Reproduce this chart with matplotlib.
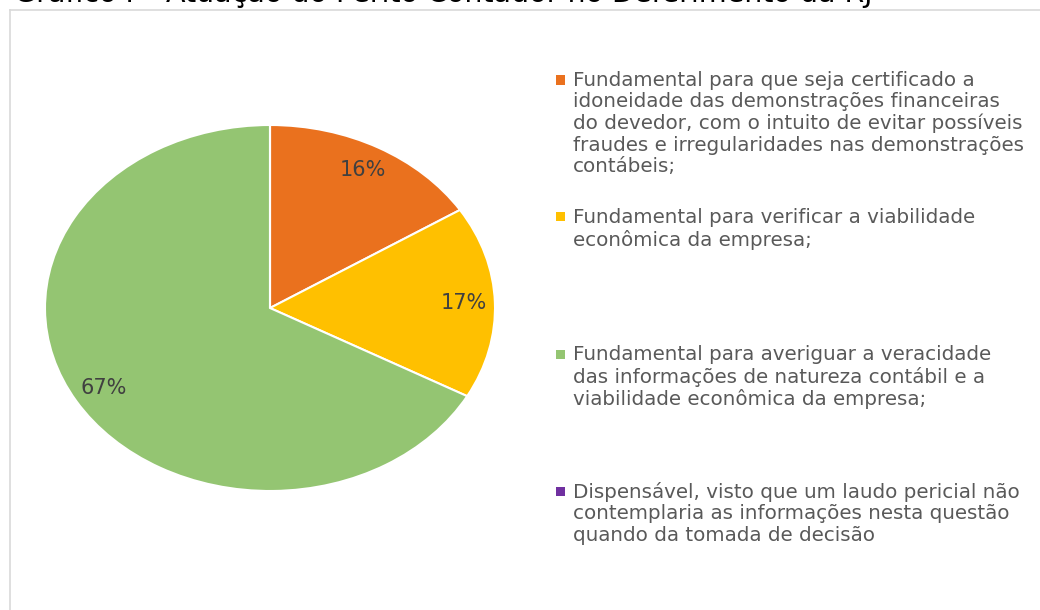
import matplotlib
matplotlib.use("Agg")
import matplotlib.pyplot as plt
from matplotlib.patches import Rectangle
from matplotlib.lines import Line2D

plt.rcParams['font.family'] = ['DejaVu Sans']

title = "Gráfico I – Atuação do Perito Contador no Deferimento da RJ"
categories = [
    "Fundamental para que seja certificado a\nidoneidade das demonstrações financeiras\ndo devedor, com o intuito de evitar possíveis\nfraudes e irregularidades nas demonstrações\ncontábeis;",
    "Fundamental para verificar a viabilidade\neconômica da empresa;",
    "Fundamental para averiguar a veracidade\ndas informações de natureza contábil e a\nviabilidade econômica da empresa;",
    "Dispensável, visto que um laudo pericial não\ncontemplaria as informações nesta questão\nquando da tomada de decisão",
]
values = [16, 17, 67, 0]
colors = ["#EA711E", "#FFC000", "#94C572", "#7030A0"]

W, H = 1040, 610
fig = plt.figure(figsize=(W / 100, H / 100), dpi=100)

# frame of chart area
fig.add_artist(Line2D([10 / W, 10 / W], [0, 1 - 10 / H], color="#D9D9D9", lw=1.2))
fig.add_artist(Line2D([10 / W, 1], [1 - 10 / H, 1 - 10 / H], color="#D9D9D9", lw=1.2))

# title (cut off at the top as in the original)
fig.text(14 / W, 1 - 2 / H, title, fontsize=20.5, color="black", ha="left", va="baseline")

# pie (elliptical, as in the source)
cx, cy, rx, ry = 270, 308, 225, 183
ax = fig.add_axes([(cx - rx) / W, 1 - (cy + ry) / H, 2 * rx / W, 2 * ry / H])


def fmt(p):
    return f"{p:.0f}%" if p > 0.5 else ""


wedges, texts, autotexts = ax.pie(
    values, colors=colors, startangle=90, counterclock=False,
    autopct=fmt, pctdistance=0.86,
    wedgeprops=dict(edgecolor="white", linewidth=1.5),
    textprops=dict(fontsize=15, color="#404040"),
)
ax.set_xlim(-1, 1)
ax.set_ylim(-1, 1)
ax.set_aspect("auto")
ax.axis("off")

# legend drawn manually with equal slot spacing
top_y = 80
step = 137
for i, (lab, col) in enumerate(zip(categories, colors)):
    y = top_y + i * step
    fig.add_artist(Rectangle((556 / W, 1 - (y + 4.5) / H), 9 / W, 9 / H,
                             facecolor=col, edgecolor="none"))
    fig.text(573 / W, 1 - (y - 9) / H, lab, fontsize=14.3, color="#595959",
             ha="left", va="top", linespacing=1.16)

fig.savefig("out.png", dpi=100)
